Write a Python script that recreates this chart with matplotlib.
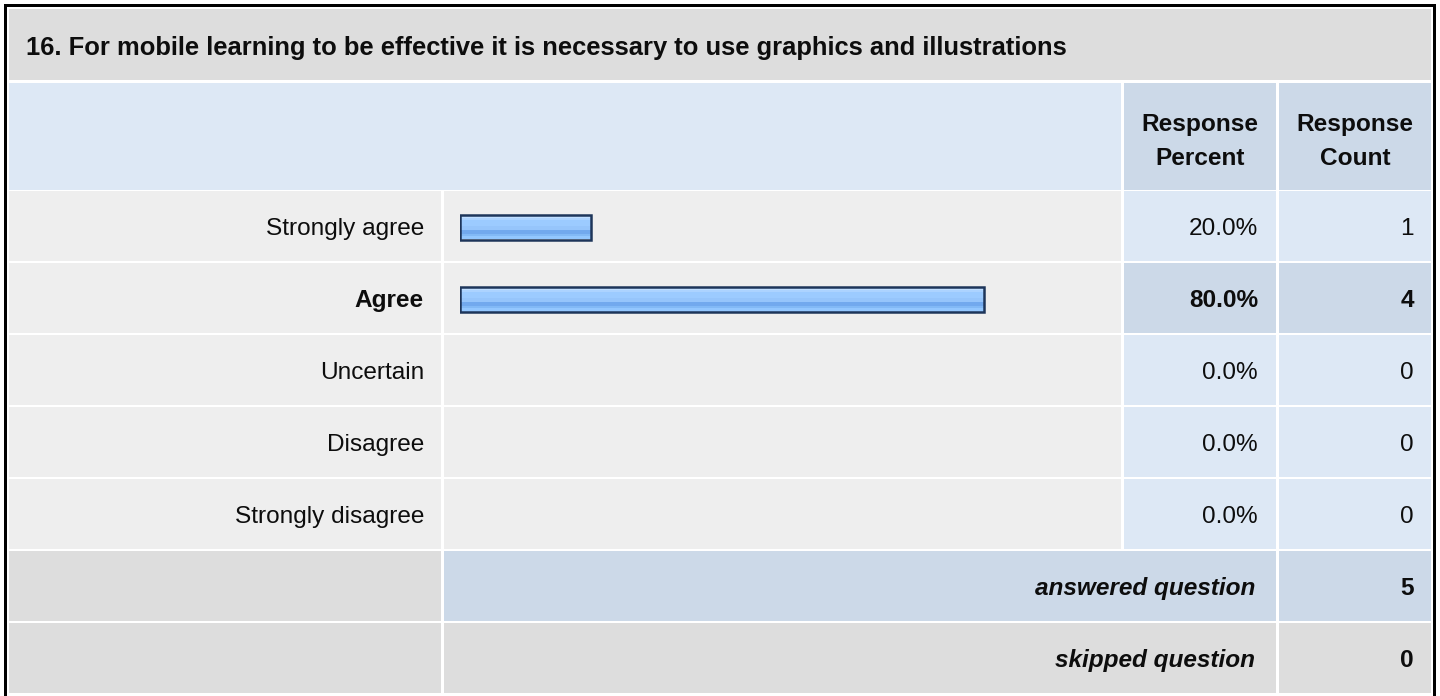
import matplotlib

matplotlib.use("Agg")
import matplotlib.pyplot as plt
from matplotlib.patches import Rectangle

# Survey data
question = "16. For mobile learning to be effective it is necessary to use graphics and illustrations"
choices = ["Strongly agree", "Agree", "Uncertain", "Disagree", "Strongly disagree"]
percents = [20.0, 80.0, 0.0, 0.0, 0.0]
counts = [1, 4, 0, 0, 0]
answered = 5
skipped = 0

plt.rcParams["font.family"] = ["Liberation Sans", "DejaVu Sans"]
FS = 17.6  # points, ~24.5 px at dpi 100

W, H = 1440, 696
fig = plt.figure(figsize=(W / 100, H / 100), dpi=100)
fig.patch.set_facecolor("white")
ax = fig.add_axes([0, 0, 1, 1])
ax.set_xlim(0, W)
ax.set_ylim(H, 0)
ax.axis("off")

GRAY = "#dddddd"
LIGHT = "#eeeeee"
BLUE = "#dde8f5"
BLUE2 = "#ccd9e8"
INK = "#0d0d0d"


def cell(x0, x1, y0, y1, color):
    ax.add_patch(Rectangle((x0, y0), x1 - x0, y1 - y0, facecolor=color,
                           edgecolor="none", linewidth=0))


# column edges (px)
c_lab = (9, 441)
c_bar = (444, 1121)
c_pct = (1124, 1276)
c_cnt = (1279, 1431)

# title row
cell(9, 1431, 9, 80, GRAY)
ax.text(26, 55, question, fontsize=18.4, fontweight="bold", ha="left",
        va="baseline", color=INK)

# header row
cell(9, 1121, 83, 190, BLUE)
cell(*c_pct, 83, 190, BLUE2)
cell(*c_cnt, 83, 190, BLUE2)
for cx, word in [((c_pct[0] + c_pct[1]) / 2, "Percent"), ((c_cnt[0] + c_cnt[1]) / 2, "Count")]:
    ax.text(cx, 131, "Response", fontsize=FS, fontweight="bold", ha="center",
            va="baseline", color=INK)
    ax.text(cx, 165, word, fontsize=FS, fontweight="bold", ha="center",
            va="baseline", color=INK)

ROW0, PITCH, RH = 191, 72, 70
top_idx = counts.index(max(counts))

for i, (name, pct, cnt) in enumerate(zip(choices, percents, counts)):
    y0 = ROW0 + PITCH * i
    yc = y0 + RH / 2
    hl = i == top_idx
    cell(*c_lab, y0, y0 + RH, LIGHT)
    cell(*c_bar, y0, y0 + RH, LIGHT)
    cell(*c_pct, y0, y0 + RH, BLUE2 if hl else BLUE)
    cell(*c_cnt, y0, y0 + RH, BLUE2 if hl else BLUE)
    w = "bold" if hl else "normal"
    ax.text(424, yc + 9, name, fontsize=FS, fontweight=w, ha="right",
            va="baseline", color=INK)
    ax.text(1258, yc + 9, f"{pct:.1f}%", fontsize=FS, fontweight=w,
            ha="right", va="baseline", color=INK)
    ax.text(1414, yc + 9, str(cnt), fontsize=FS, fontweight=w,
            ha="right", va="baseline", color=INK)

# footer rows
footer = [("answered question", answered, BLUE2), ("skipped question", skipped, GRAY)]
for j, (label, val, col) in enumerate(footer):
    y0 = ROW0 + PITCH * (len(choices) + j)
    yc = y0 + RH / 2
    cell(*c_lab, y0, y0 + RH, GRAY)
    cell(c_bar[0], c_pct[1], y0, y0 + RH, col)
    cell(*c_cnt, y0, y0 + RH, col)
    ax.text(1255, yc + 9, label, fontsize=FS, fontweight="bold",
            style="italic", ha="right", va="baseline", color=INK)
    ax.text(1414, yc + 9, str(val), fontsize=FS, fontweight="bold",
            ha="right", va="baseline", color=INK)

# outer border (bottom is cut off in the original)
cell(4, 7, 4, H, "black")
cell(4, 1436, 4, 7, "black")
cell(1433, 1436, 4, H, "black")

# bars: separate axes so bar length comes from the percent scale
bx0, bx1 = 460, 1115
by0, by1 = ROW0, ROW0 + PITCH * len(choices)
bax = fig.add_axes([bx0 / W, 1 - by1 / H, (bx1 - bx0) / W, (by1 - by0) / H])
bax.set_xlim(0, 100)
bax.set_ylim(len(choices) - 0.5, -0.5)
bax.axis("off")
bax.patch.set_alpha(0)

bar_h = 25 / PITCH
bands = [("#d6eaff", 1), ("#c0deff", 1), ("#acd3ff", 1), ("#9ccbff", 3),
         ("#96c5fb", 2), ("#72a9ee", 2), ("#82b9f6", 1), ("#93c7ff", 2)]
total = sum(b[1] for b in bands)
for i, pct in enumerate(percents):
    if pct <= 0:
        continue
    top = i - bar_h / 2
    for color, units in bands:
        hh = bar_h * units / total
        bax.barh(top + hh / 2, pct, height=hh, left=0, color=color,
                 edgecolor="none", linewidth=0)
        top += hh
    bax.barh(i, pct, height=bar_h, left=0, color="none",
             edgecolor="#1d355a", linewidth=1.8)

fig.savefig("out.png", dpi=100)
plt.close(fig)
